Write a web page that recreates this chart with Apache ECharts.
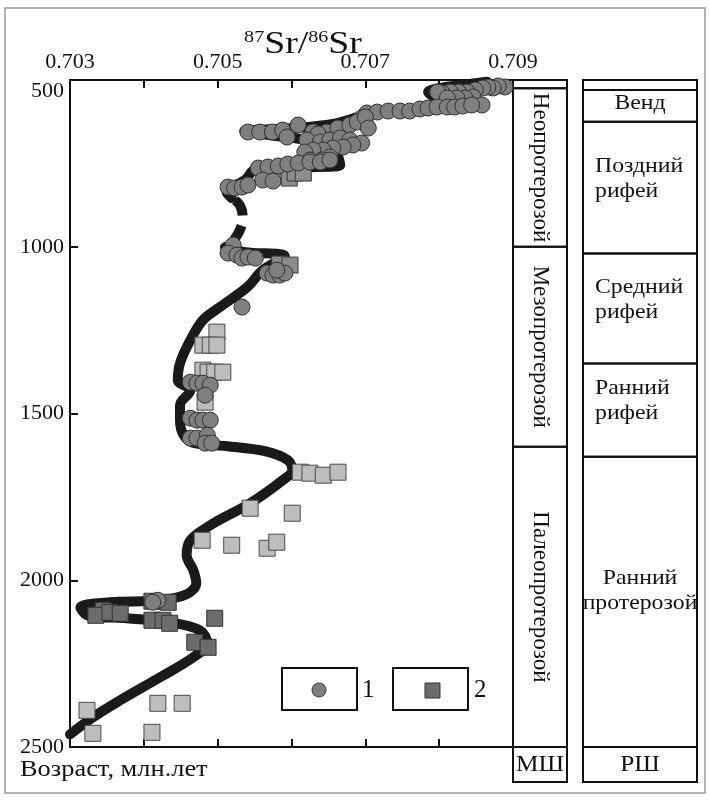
<!DOCTYPE html>
<html><head><meta charset="utf-8">
<script src="https://cdn.jsdelivr.net/npm/echarts@6/dist/echarts.min.js"></script>
<style>html,body{margin:0;padding:0;background:#fff}#c{width:709px;height:800px}</style>
</head><body><div id="c"></div>
<script>
// ---------- data ----------
const xMin = 0.703, xMax = 0.709, xStep = 0.001;
const yMin = 500, yMax = 2500, yStep = 500;

// group 1: circles [87Sr/86Sr, age Ma]
const circles = [
 [0.70889,521],[0.70880,518],[0.70873,524],[0.70866,521],[0.70859,524],[0.70849,530],[0.70838,536],[0.70826,536],[0.70815,536],[0.70804,539],[0.70798,536],
 [0.70846,551],[0.70835,554],[0.70824,554],[0.70811,554],[0.70858,575],
 [0.70702,599],[0.70716,596],[0.70731,593],[0.70747,593],[0.70760,593],[0.70774,587],[0.70785,584],[0.70797,581],[0.70811,581],[0.70821,581],[0.70832,578],[0.70844,575],[0.70695,614],[0.70700,629],
 [0.70541,656],[0.70557,656],[0.70574,656],[0.70588,650],[0.70609,635],[0.70594,671],[0.70629,656],[0.70648,656],[0.70663,644],[0.70679,635],[0.70689,626],[0.70700,611],[0.70704,644],[0.70636,662],
 [0.70621,680],[0.70639,686],[0.70652,680],[0.70666,674],[0.70679,680],[0.70695,689],[0.70683,695],[0.70670,701],[0.70656,704],[0.70643,710],[0.70629,710],[0.70618,716],[0.70652,731],[0.70641,740],[0.70625,740],
 [0.70555,764],[0.70568,761],[0.70582,758],[0.70595,752],[0.70609,749],[0.70625,746],[0.70639,746],[0.70652,740],[0.70561,800],[0.70575,803],[0.70514,821],[0.70523,824],[0.70533,821],[0.70541,815],
 [0.70521,995],[0.70514,1019],[0.70526,1025],[0.70533,1034],[0.70541,1031],[0.70551,1034],[0.70567,1079],[0.70575,1085],[0.70584,1085],[0.70591,1079],[0.70580,1070],[0.70533,1181],
 [0.70463,1406],[0.70472,1409],[0.70480,1409],[0.70490,1415],[0.70483,1445],[0.70463,1514],[0.70472,1520],[0.70480,1520],[0.70490,1520],[0.70463,1574],[0.70472,1574],[0.70486,1565],[0.70483,1589],[0.70492,1589],
 [0.70419,2060],[0.70412,2066]
];
// group 2: squares (three tones as in the figure)
const lightSquares = [
 [0.70499,1256],[0.70480,1295],[0.70490,1295],[0.70499,1295],[0.70480,1370],[0.70487,1376],[0.70496,1376],[0.70507,1376],[0.70483,1466],
 [0.70612,1676],[0.70625,1679],[0.70643,1685],[0.70663,1676],[0.70544,1784],[0.70601,1799],[0.70479,1880],[0.70519,1895],[0.70567,1904],[0.70580,1886],
 [0.70323,2390],[0.70419,2369],[0.70452,2369],[0.70331,2459],[0.70411,2456]
];
const mediumSquares = [
 [0.70587,785],[0.70597,794],[0.70605,779],[0.70616,779],[0.70584,1052],[0.70598,1055]
];
const darkSquares = [
 [0.70411,2063],[0.70433,2066],[0.70345,2090],[0.70335,2105],[0.70354,2096],[0.70368,2099],[0.70411,2120],[0.70426,2120],[0.70435,2129],[0.70496,2114],[0.70469,2186],[0.70487,2201]
];
// evolution curve
const curveUpper = [
 [0.70865,505],[0.70830,515],[0.70800,524],[0.70785,536],[0.70800,556],[0.70840,572],[0.70790,584],[0.70706,602],
 [0.70660,630],[0.70600,645],[0.70536,653],[0.70570,665],[0.70630,685],[0.70660,720],[0.70666,755],[0.70620,762],
 [0.70552,767],[0.70537,800],[0.70512,836],[0.70519,854]
];
const curveDashed = [
 [0.70519,854],[0.70530,875],[0.70534,914],[0.70530,950],[0.70522,980]
];
const curveLower = [
 [0.70510,1001],[0.70537,1016],[0.70591,1028],[0.70561,1070],[0.70540,1121],[0.70503,1181],[0.70480,1220],[0.70463,1280],
 [0.70449,1349],[0.70446,1400],[0.70463,1430],[0.70449,1475],[0.70449,1520],[0.70454,1565],[0.70469,1589],[0.70513,1598],
 [0.70564,1613],[0.70595,1640],[0.70601,1670],[0.70588,1700],[0.70544,1769],[0.70490,1835],[0.70463,1880],[0.70458,1925],
 [0.70467,1970],[0.70471,2009],[0.70458,2042],[0.70422,2060],[0.70354,2066],[0.70314,2081],[0.70324,2105],[0.70377,2114],
 [0.70435,2126],[0.70476,2150],[0.70486,2189],[0.70467,2231],[0.70422,2291],[0.70368,2360],[0.70331,2411],[0.70300,2462]
];
// stratigraphic columns [label, fromAge, toAge]
const generalScale = [['',500,525],['Неопротерозой',525,1000],['Мезопротерозой',1000,1600],['Палеопротерозой',1600,2500]];
const regionalScale = [['',500,530],['Венд',530,625],['Поздний\nрифей',625,1020],['Средний\nрифей',1020,1350],['Ранний\nрифей',1350,1630],['Ранний\nпротерозой',1630,2500]];
const scaleNames = ['МШ','РШ'];
const legendNames = ['1','2'];
const titleParts = ['87','Sr/','86','Sr'];
const yAxisName = 'Возраст, млн.лет';

// ---------- chart ----------
const FONT = '"Liberation Serif","Times New Roman",serif';
const chart = echarts.init(document.getElementById('c'));
const axisLineStyle = {color:'#111', width:2};
const curveStyle = {color:'#1a1a1a', width:10, cap:'round', join:'round'};
const GRID = {left:70, right:196, top:80, bottom:53};

chart.setOption({
  animation:false,
  backgroundColor:'#fff',
  grid:GRID,
  xAxis:[
    {type:'value', position:'top', min:xMin, max:xMax, interval:xStep,
     axisLine:{show:true, onZero:false, lineStyle:axisLineStyle},
     axisTick:{show:true, inside:true, length:8, lineStyle:axisLineStyle},
     axisLabel:{margin:7, color:'#111', fontFamily:FONT, fontSize:22,
       formatter:v => (Math.round(v*1000)%2===1 ? v.toFixed(3) : '')},
     splitLine:{show:false}},
    {type:'value', position:'bottom', min:xMin, max:xMax, interval:xStep,
     axisLine:{show:true, onZero:false, lineStyle:axisLineStyle},
     axisTick:{show:true, inside:true, length:8, lineStyle:axisLineStyle},
     axisLabel:{show:false}, splitLine:{show:false}}
  ],
  yAxis:[
    {type:'value', position:'left', inverse:true, min:yMin, max:yMax, interval:yStep,
     axisLine:{show:true, onZero:false, lineStyle:axisLineStyle},
     axisTick:{show:true, inside:true, length:8, lineStyle:axisLineStyle},
     axisLabel:{margin:6, color:'#111', fontFamily:FONT, fontSize:22, verticalAlignMinLabel:'top',
       formatter:v => String(Math.round(v))},
     splitLine:{show:false}},
    {type:'value', position:'right', inverse:true, min:yMin, max:yMax, interval:yStep,
     axisLine:{show:true, onZero:false, lineStyle:axisLineStyle},
     axisTick:{show:false}, axisLabel:{show:false}, splitLine:{show:false}}
  ],
  series:[
    {type:'line', data:curveUpper, smooth:0.35, showSymbol:false, lineStyle:curveStyle, z:2, silent:true},
    {type:'line', data:curveDashed, smooth:0.4, showSymbol:false, lineStyle:Object.assign({}, curveStyle, {type:[18,10], dashOffset:24, cap:'butt'}), z:2, silent:true},
    {type:'line', data:curveLower, smooth:0.35, showSymbol:false, lineStyle:curveStyle, z:2, silent:true},
    {type:'scatter', data:lightSquares, symbol:'rect', symbolSize:16, itemStyle:{color:'#bdbdbd', borderColor:'#4a4a4a', borderWidth:1, opacity:1}, z:3},
    {type:'scatter', data:mediumSquares, symbol:'rect', symbolSize:16, itemStyle:{color:'#8c8c8c', borderColor:'#3a3a3a', borderWidth:1, opacity:1}, z:3},
    {type:'scatter', data:darkSquares, symbol:'rect', symbolSize:16, itemStyle:{color:'#6c6c6c', borderColor:'#333', borderWidth:1, opacity:1}, z:3},
    {type:'scatter', data:circles, symbol:'circle', symbolSize:16, itemStyle:{color:'#7f7f7f', borderColor:'#333', borderWidth:1, opacity:1}, z:4}
  ]
});

// ---------- decorations (columns, legend, titles) ----------
const yPix = a => chart.convertToPixel({yAxisIndex:0}, a);
const g = [];
// outer frame
g.push({type:'rect', shape:{x:5, y:8, width:700, height:785}, style:{fill:null, stroke:'#9a9a9a', lineWidth:1.5}, silent:true});
// title
g.push({type:'text', x:303, y:45, scaleX:1.18, style:{
  text:'{s|'+titleParts[0]+'}{b|'+titleParts[1]+'}{s|'+titleParts[2]+'}{b|'+titleParts[3]+'}',
  align:'center', verticalAlign:'middle', fill:'#111',
  rich:{s:{fontFamily:FONT, fontSize:17, verticalAlign:'top', lineHeight:32, fill:'#111'},
        b:{fontFamily:FONT, fontSize:32, verticalAlign:'bottom', lineHeight:32, fill:'#111'}}}});
// y axis caption
g.push({type:'text', x:20, y:770, scaleX:1.1, style:{text:yAxisName, font:'24px '+FONT, fill:'#111', align:'left', verticalAlign:'middle'}});

function column(x0, x1, rows, rotate, alignMode){
  rows.forEach(r => {
    const ya = yPix(r[1]), yc = yPix(r[2]);
    g.push({type:'rect', shape:{x:x0, y:ya, width:x1-x0, height:yc-ya}, style:{fill:null, stroke:'#111', lineWidth:2}, silent:true});
    if (!r[0]) return;
    if (rotate) {
      g.push({type:'text', x:(x0+x1)/2, y:(ya+yc)/2, rotation:-Math.PI/2,
        style:{text:r[0], font:'23px '+FONT, fill:'#111', align:'center', verticalAlign:'middle'}});
    } else {
      const am = alignMode(r);
      const two = r[0].indexOf('\n')>=0;
      const shift = two ? (r[2]-r[1] > 600 ? -11 : -9) : -3;
      g.push({type:'text', x: am==='left' ? x0+12 : (x0+x1)/2, y:(ya+yc)/2 + shift, scaleX:1.08,
        style:{text:r[0], font:'22px '+FONT, fill:'#111', align:am, verticalAlign:'middle', lineHeight:25}});
    }
  });
}
const c1 = [513, 567], c2 = [583, 697];
column(c1[0], c1[1], generalScale, true);
column(c2[0], c2[1], regionalScale, false, r => (r[0].indexOf('рифей')>=0 ? 'left' : 'center'));
// bottom boxes
const yb = yPix(yMax);
[[c1, scaleNames[0]], [c2, scaleNames[1]]].forEach(([c, t]) => {
  g.push({type:'rect', shape:{x:c[0], y:yb, width:c[1]-c[0], height:35}, style:{fill:null, stroke:'#111', lineWidth:2}, silent:true});
  g.push({type:'text', x:(c[0]+c[1])/2, y:yb+18, scaleX:1.1, style:{text:t, font:'23px '+FONT, fill:'#111', align:'center', verticalAlign:'middle'}});
});
// legend
g.push({type:'rect', shape:{x:282, y:668, width:75, height:42}, style:{fill:'#fff', stroke:'#111', lineWidth:2}, z:10});
g.push({type:'circle', shape:{cx:319, cy:690, r:7}, style:{fill:'#7f7f7f', stroke:'#333', lineWidth:1}, z:11});
g.push({type:'text', x:362, y:690, style:{text:legendNames[0], font:'25px '+FONT, fill:'#111', align:'left', verticalAlign:'middle'}, z:11});
g.push({type:'rect', shape:{x:393, y:668, width:75, height:42}, style:{fill:'#fff', stroke:'#111', lineWidth:2}, z:10});
g.push({type:'rect', shape:{x:425, y:683, width:15, height:15}, style:{fill:'#6c6c6c', stroke:'#333', lineWidth:1}, z:11});
g.push({type:'text', x:474, y:690, style:{text:legendNames[1], font:'25px '+FONT, fill:'#111', align:'left', verticalAlign:'middle'}, z:11});

chart.setOption({graphic:{elements:g}});
</script>
</body></html>
